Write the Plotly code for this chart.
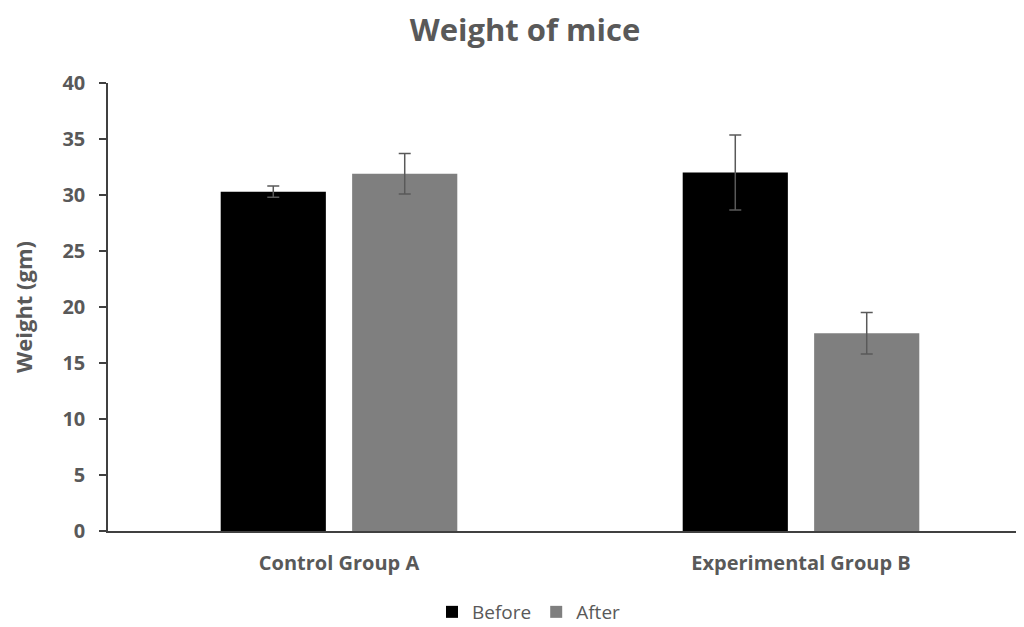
import plotly.graph_objects as go

categories = ["Control Group A", "Experimental Group B"]
before = [30.3, 32.0]
before_err = [0.5, 3.35]
after = [31.9, 17.65]
after_err = [1.8, 1.85]

# page has an 8px body margin; figure drawn at (8, 8)
OFF = 8
W, H = 1024 - OFF, 627 - OFF
left, right_px = 108 - OFF, 1024 - OFF
top, bottom = 83 - OFF, 531 - OFF

span = (right_px - left) / 462.0
xr = [-0.5, -0.5 + span]

gray = "#595959"
font = "Open Sans"

fig = go.Figure()
fig.add_trace(go.Bar(
    name="Before", x=[0, 1], y=before,
    marker=dict(color="#000000", line=dict(width=0)),
    error_y=dict(type="data", array=before_err, visible=True, color=gray, thickness=1.5, width=6),
))
fig.add_trace(go.Bar(
    name="After", x=[0, 1], y=after,
    marker=dict(color="#7f7f7f", line=dict(width=0)),
    error_y=dict(type="data", array=after_err, visible=True, color=gray, thickness=1.5, width=6),
))

fig.update_layout(
    width=W, height=H,
    margin=dict(l=left, r=W - right_px, t=top, b=H - bottom),
    paper_bgcolor="white", plot_bgcolor="white",
    barmode="group", bargap=0.431, bargroupgap=0.2,
    title=dict(text="<b>Weight of mice</b>", x=(525 - OFF) / W, xref="container", xanchor="center",
               y=1 - (30 - OFF) / H, yref="container", yanchor="middle",
               font=dict(family=font, size=31, color=gray)),
    font=dict(family=font, color=gray),
    showlegend=True,
    legend=dict(orientation="h", x=(529 - OFF) / W, xref="container", xanchor="center",
                y=1 - (612 - OFF) / H, yref="container", yanchor="middle",
                font=dict(family=font, size=19, color=gray),
                itemwidth=30, traceorder="normal"),
    xaxis=dict(
        range=xr, tickmode="array", tickvals=[0, 1],
        ticktext=["<b>" + c + "</b>" for c in categories],
        tickfont=dict(family=font, size=20, color=gray),
        showline=True, linecolor="#404040", linewidth=1.5,
        ticks="", showgrid=False, zeroline=False, ticklabelstandoff=13,
    ),
    yaxis=dict(
        range=[0, 40], tickmode="linear", tick0=0, dtick=5,
        tickfont=dict(family=font, size=20, color=gray),
        showline=True, linecolor="#404040", linewidth=1.5,
        ticks="outside", ticklen=7, tickcolor="#404040", tickwidth=1.5,
        showgrid=False, zeroline=False, ticklabelstandoff=10,
        title=dict(text="<b>Weight (gm)</b>", font=dict(family=font, size=22, color=gray), standoff=26),
    ),
)
fig.update_yaxes(tickprefix="<b>", ticksuffix="</b>")

fig.write_html("out.html")
